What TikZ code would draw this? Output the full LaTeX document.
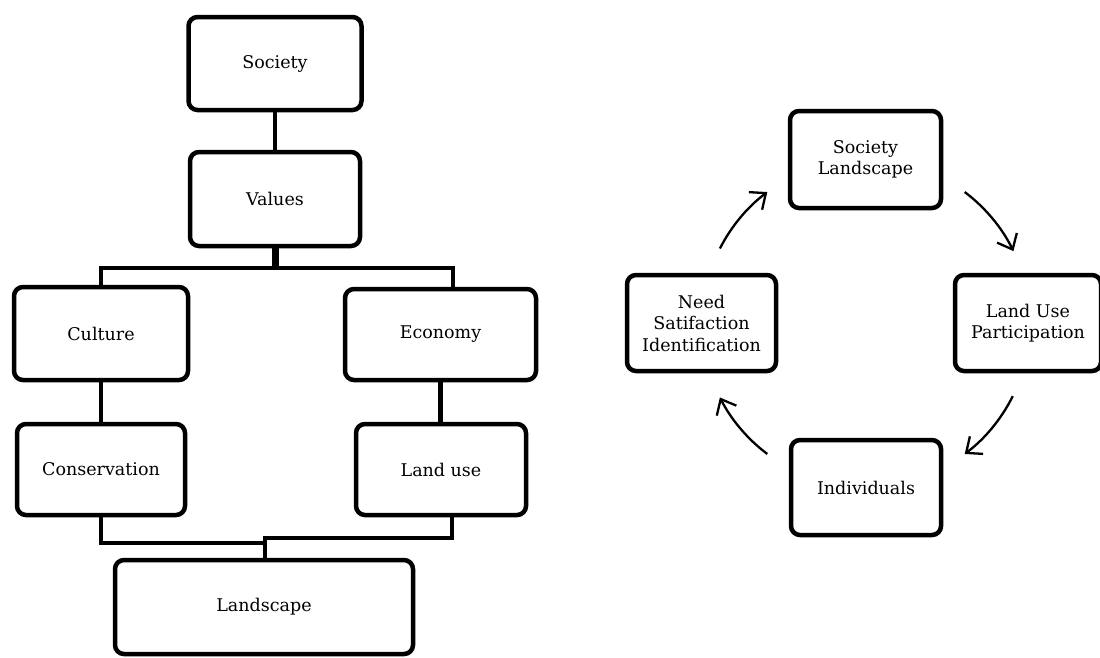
\documentclass[tikz,border=0pt]{standalone}
\usepackage{fontspec}
\setmainfont{DejaVu Serif}
\usetikzlibrary{arrows.meta}
\begin{document}
\begin{tikzpicture}[x=1pt,y=-1pt,
  box/.style={draw, line width=4.5pt, rounded corners=9pt, inner sep=0pt,
    align=center, font=\fontsize{17.5}{21.5}\selectfont},
  conn/.style={line width=4.5pt},
  stem/.style={line width=7pt},
  cyc/.style={line width=2.3pt, -{Straight Barb[length=13pt,width=22pt]}}]
\useasboundingbox (0,0) rectangle (1100,657);

% ---------- hierarchy (left) ----------
\node[box, minimum width=173pt, minimum height=93pt] (soc) at (275,63.5) {Society};
\node[box, minimum width=170pt, minimum height=94pt] (val) at (275,199) {Values};
\node[box, minimum width=174pt, minimum height=93pt] (cul) at (101,333.5) {Culture};
\node[box, minimum width=191pt, minimum height=91pt] (eco) at (440.5,334.5) {Economy};
\node[box, minimum width=168pt, minimum height=91pt] (con) at (101,469.5) {Conservation};
\node[box, minimum width=170pt, minimum height=91pt] (lu)  at (441,469.5) {Land use};
\node[box, minimum width=298pt, minimum height=94pt] (lan) at (264,607) {Landscape};

\coordinate (bar) at (277,268);
\coordinate (jl) at (265,543);
\coordinate (jr) at (265,538);

\draw[conn] (soc.south) -- (val.north);
\draw[stem] (val.south) -- (val.south |- bar);
\draw[conn] (cul.north) |- (bar) -| ([xshift=12.5pt]eco.north);
\draw[conn] (cul.south) -- (con.north);
\draw[conn] (eco.south) -- (eco.south |- lu.north);
\draw[conn] (con.south) |- (jl);
\draw[conn] ([xshift=11pt]lu.south) |- (jr) -- (jr |- lan.north);

% ---------- cycle (right) ----------
\node[box, minimum width=151pt, minimum height=97pt] (sl)  at (865.5,159.5) {Society\\Landscape};
\node[box, minimum width=146pt, minimum height=96pt] (lup) at (1028,323) {Land Use\\Participation};
\node[box, minimum width=150pt, minimum height=95pt] (ind) at (866,487.5) {Individuals};
\node[box, minimum width=149pt, minimum height=96pt] (nsi) at (701.5,323) {Need\\Satifaction\\Identification};

\coordinate (cyc) at (866,323);
\draw[cyc] ([shift={(-53:164)}]cyc) arc[start angle=-53, end angle=-26, radius=164];
\draw[cyc] ([shift={(26.5:164)}]cyc) arc[start angle=26.5, end angle=53, radius=164];
\draw[cyc] ([shift={(127:164)}]cyc) arc[start angle=127, end angle=153, radius=164];
\draw[cyc] ([shift={(-153:164)}]cyc) arc[start angle=-153, end angle=-127, radius=164];
\end{tikzpicture}
\end{document}
